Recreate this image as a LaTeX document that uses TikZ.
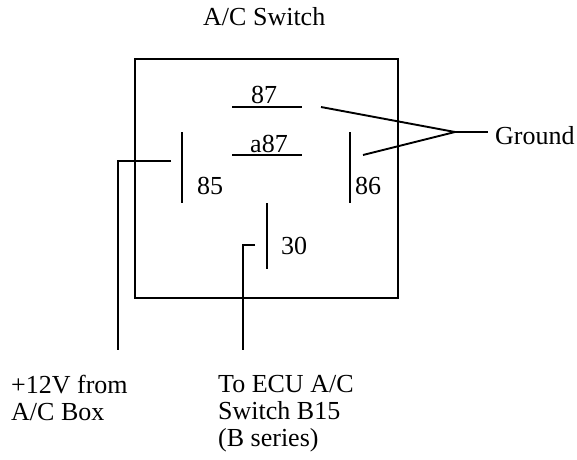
\documentclass[tikz,border=0pt]{standalone}
\usepackage{fontspec}
\setmainfont{Liberation Serif}
\usepackage{tikz}
\usetikzlibrary{positioning}

\begin{document}
\begin{tikzpicture}[x=1pt, y=-1pt,
        every node/.style = {inner sep=0pt, font=\fontsize{26}{27}\selectfont},
        pinlabel/.style = {anchor=base west},
        wire/.style = {line width=1.9pt},
        relaybox/.style = {line width=2.4pt}]
    \useasboundingbox (0,0) rectangle (577,459);
    % relay body
    \draw[relaybox] (135,59) rectangle (398,298);
    \node[anchor=base west] (title) at (203,25) {A/C Switch};
    % contacts
    \coordinate (p87a) at (232,107);  \coordinate (p87b) at (302,107);
    \coordinate (pa87a) at (232,155); \coordinate (pa87b) at (302,155);
    \coordinate (p85a) at (182,132);  \coordinate (p85b) at (182,203);
    \coordinate (p86a) at (350,132);  \coordinate (p86b) at (350,203);
    \coordinate (p30a) at (267,203);  \coordinate (p30b) at (267,269);
    \draw[wire] (p87a) -- (p87b);
    \draw[wire] (pa87a) -- (pa87b);
    \draw[wire] (p85a) -- (p85b);
    \draw[wire] (p86a) -- (p86b);
    \draw[wire] (p30a) -- (p30b);
    \node[anchor=base] (l87) at (264,103) {87};
    \node[anchor=base] (la87) at (269,152) {a87};
    \node[pinlabel] (l85) at (197,194) {85};
    \node[pinlabel] (l86) at (355,194) {86};
    \node[pinlabel] (l30) at (281,254) {30};
    % ground
    \coordinate (g87) at (321,107);
    \coordinate (g86) at (363,155);
    \coordinate (gjoin) at (455,132);
    \coordinate (gend) at (488,132);
    \node[pinlabel] (ground) at (495,144) {Ground};
    \draw[wire] (g87) -- (gjoin) -- (g86);
    \draw[wire] (gjoin) -- (gend);
    % feeds
    \coordinate (f85) at (171,161);
    \coordinate (f85d) at (118,350);
    \coordinate (f30) at (255,245);
    \coordinate (f30d) at (243,350);
    \draw[wire] (f85) -| (f85d);
    \draw[wire] (f30) -| (f30d);
    \node[anchor=north west, align=left] (supply) at (11,375) {+12V from\\A/C Box};
    \node[anchor=north west, align=left] (ecu) at (218,375) {To ECU A/C\\Switch B15\\(B series)};
\end{tikzpicture}
\end{document}
